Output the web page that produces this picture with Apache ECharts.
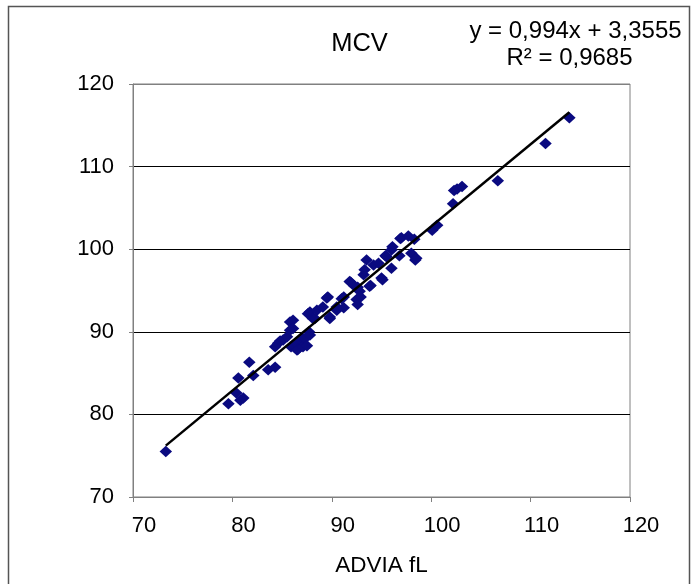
<!DOCTYPE html>
<html>
<head>
<meta charset="utf-8">
<script src="https://cdn.jsdelivr.net/npm/echarts@6/dist/echarts.min.js"></script>
<style>
  html, body { margin: 0; padding: 0; background: #fff; }
  #chart { width: 694px; height: 584px; }
</style>
</head>
<body>
<div id="chart"></div>
<script>
// ADVIA values (x) vs comparison method (y)
const adviaValues = [73.3, 79.6, 80.8, 81.1, 80.4, 80.6, 81.7, 82.1, 83.6, 84.3, 84.3, 84.6, 84.8, 85.1, 85.5,
    85.8, 85.8, 86.1, 86.1, 85.9, 86.5, 86.5, 86.6, 87.0, 87.1, 87.3, 87.5, 87.6, 87.7, 87.8, 87.8, 88.1, 88.3,
    88.5, 89.1, 89.5, 89.6, 89.8, 89.8, 90.5, 90.5, 91.0, 91.2, 91.2, 91.8, 91.9, 92.3, 92.5, 92.6, 92.6, 92.8,
    92.9, 93.2, 93.3, 93.5, 93.8, 93.9, 94.2, 94.7, 95.0, 95.1, 95.4, 95.5, 96.0, 96.0, 96.1, 96.8, 96.9, 97.0,
    97.7, 98.0, 98.3, 98.4, 98.5, 100.1, 100.6, 102.2, 102.3, 102.6, 103.1, 106.7, 111.5, 113.9];
const otherValues = [75.5, 81.3, 81.7, 82.0, 82.6, 84.4, 86.3, 84.7, 85.4, 85.7, 88.2, 88.6, 88.9, 89.0, 89.4,
    90.2, 91.2, 91.4, 90.4, 88.2, 88.6, 87.8, 87.9, 89.3, 88.2, 89.2, 88.3, 92.2, 90.0, 89.6, 92.4, 91.6, 91.6,
    92.6, 93.0, 94.1, 94.2, 91.6, 91.8, 92.6, 93.0, 94.0, 92.9, 94.2, 96.1, 96.0, 95.5, 93.9, 95.4, 93.3, 94.9,
    94.2, 96.9, 97.5, 98.7, 95.5, 95.6, 98.1, 98.3, 96.5, 96.3, 99.2, 99.1, 99.9, 97.7, 100.3, 99.2, 101.3, 101.4,
    101.6, 99.5, 101.2, 98.7, 98.9, 102.3, 102.9, 105.5, 107.1, 107.3, 107.6, 108.3, 112.8, 115.9];

// linear trend shown on the chart
const slope = 0.994;
const intercept = 3.3555;
const rSquared = '0,9685';

const xTicks = [70, 80, 90, 100, 110, 120];
const yTicks = [70, 80, 90, 100, 110, 120];

const points = adviaValues.map((x, i) => [x, otherValues[i]]);
const xMin = Math.min(...adviaValues);
const xMax = Math.max(...adviaValues);
const trend = [[xMin, slope * xMin + intercept], [xMax, slope * xMax + intercept]];

const font = 'Liberation Sans, Arial, sans-serif';
const chart = echarts.init(document.getElementById('chart'));

chart.setOption({
    backgroundColor: '#fff',
    animation: false,
    grid: {
        left: 133, right: 64, top: 84, bottom: 87,
        show: true, borderColor: '#808080', borderWidth: 1, backgroundColor: '#fff'
    },
    xAxis: {
        type: 'value',
        min: xTicks[0], max: xTicks[xTicks.length - 1], interval: 10,
        name: 'ADVIA fL', nameLocation: 'middle', nameGap: 57,
        nameTextStyle: { fontFamily: font, fontSize: 22.5, color: '#000' },
        axisLine: { lineStyle: { color: '#808080', width: 1 } },
        axisTick: { show: true, length: 5, lineStyle: { color: '#808080' } },
        axisLabel: { fontFamily: font, fontSize: 22, color: '#000', margin: 18, padding: [0, 0, 0, 22] },
        splitLine: { show: false }
    },
    yAxis: {
        type: 'value',
        min: yTicks[0], max: yTicks[yTicks.length - 1], interval: 10,
        axisLine: { show: true, lineStyle: { color: '#808080', width: 1 } },
        axisTick: { show: true, length: 4, lineStyle: { color: '#808080' } },
        axisLabel: { fontFamily: font, fontSize: 22, color: '#000', margin: 19 },
        splitLine: {
            show: true,
            lineStyle: { color: ['#808080', '#000', '#000', '#000', '#000', '#808080'], width: 1 }
        }
    },
    graphic: [
        {
            type: 'rect', silent: true, z: -10,
            shape: { x: 8.5, y: 6.5, width: 681, height: 600 },
            style: { fill: null, stroke: '#555', lineWidth: 1.5 }
        },
        {
            type: 'text', x: 359.5, y: 44,
            style: {
                text: 'MCV', font: '25.5px ' + font, fill: '#000',
                textAlign: 'center', textVerticalAlign: 'middle'
            }
        },
        {
            type: 'text', x: 575.5, y: 31,
            style: {
                text: 'y = 0,994x + 3,3555', font: '24px ' + font, fill: '#000',
                textAlign: 'center', textVerticalAlign: 'middle'
            }
        },
        {
            type: 'text', x: 569.5, y: 58,
            style: {
                text: 'R² = ' + rSquared, font: '24px ' + font, fill: '#000',
                textAlign: 'center', textVerticalAlign: 'middle'
            }
        }
    ],
    series: [
        {
            type: 'scatter',
            data: points,
            symbol: 'diamond',
            symbolSize: [12.5, 11.5],
            itemStyle: { color: '#0a0a80', opacity: 1 },
            z: 2
        },
        {
            type: 'line',
            data: trend,
            symbol: 'none',
            lineStyle: { color: '#000', width: 2.5 },
            z: 3
        }
    ]
});
</script>
</body>
</html>
